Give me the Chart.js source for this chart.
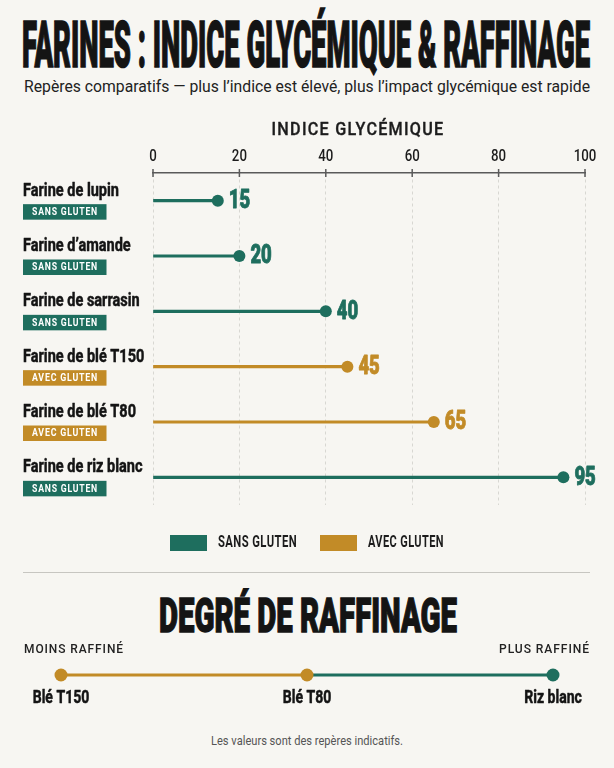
<!DOCTYPE html>
<html lang="fr">
<head>
<meta charset="utf-8">
<title>Farines : indice glycémique &amp; raffinage</title>
<script src="https://cdn.jsdelivr.net/npm/chart.js@4.4.1/dist/chart.umd.min.js"></script>
<style>
  html, body { margin: 0; padding: 0; background: #f7f6f2; }
  body { width: 614px; height: 768px; position: relative; overflow: hidden;
         font-family: Roboto, 'Liberation Sans', sans-serif; color: #141414; }
  .t { position: absolute; white-space: nowrap; line-height: 1; transform-origin: 0 0; }
  #title { top: 13px; font-size: 65px; font-weight: 900; -webkit-text-stroke: 1.6px #141414; }
  #subtitle { top: 78px; font-size: 17px; font-weight: 400; color: #222; }
  #section { top: 592px; font-size: 48px; font-weight: 900; -webkit-text-stroke: 1.4px #141414; }
  #note { top: 734px; font-size: 13px; font-weight: 400; color: #555; }
  .rule { position: absolute; left: 23px; width: 567px; top: 572px; border-top: 1.5px solid #c7c6c1; }
  #igChart { position: absolute; left: 0; top: 100px; }
  #raffChart { position: absolute; left: 0; top: 635px; }
</style>
</head>
<body>
<div class="t" id="title">FARINES : INDICE GLYCÉMIQUE &amp; RAFFINAGE</div>
<div class="t" id="subtitle">Repères comparatifs — plus l’indice est élevé, plus l’impact glycémique est rapide</div>
<canvas id="igChart" width="614" height="470"></canvas>
<div class="rule"></div>
<div class="t" id="section">DEGRÉ DE RAFFINAGE</div>
<canvas id="raffChart" width="614" height="80"></canvas>
<div class="t" id="note">Les valeurs sont des repères indicatifs.</div>

<script>
// Data
const farines = ['Farine de lupin', 'Farine d’amande', 'Farine de sarrasin',
                 'Farine de blé T150', 'Farine de blé T80', 'Farine de riz blanc'];
const indiceGlycemique = [15, 20, 40, 45, 65, 95];
const gluten = ['SANS GLUTEN', 'SANS GLUTEN', 'SANS GLUTEN', 'AVEC GLUTEN', 'AVEC GLUTEN', 'SANS GLUTEN'];
const ticksIG = [0, 20, 40, 60, 80, 100];

const raffinageLabels = ['Blé T150', 'Blé T80', 'Riz blanc'];
const raffinageRang = [1, 2, 3];
const raffinageGluten = ['AVEC GLUTEN', 'AVEC GLUTEN', 'SANS GLUTEN'];

const TEAL = '#1e6e5e';
const GOLD = '#c28b27';
const glutenColor = g => g === 'SANS GLUTEN' ? TEAL : GOLD;
const FONT = "Roboto, 'Liberation Sans', sans-serif";

// squeezed canvas text (condensed look)
function cText(ctx, s, x, y, o) {
    ctx.save();
    ctx.font = `${o.weight || 700} ${o.size}px ${FONT}`;
    ctx.letterSpacing = (o.ls || 0) + 'px';
    ctx.fillStyle = o.color || '#141414';
    ctx.textBaseline = o.baseline || 'middle';
    ctx.textAlign = 'left';
    let sx = o.sx || 0.8;
    const w = ctx.measureText(s).width;
    if (o.w) sx = o.w / w;
    const dw = w * sx;
    let x0 = x;
    if (o.align === 'center') x0 = x - dw / 2;
    if (o.align === 'right') x0 = x - dw;
    ctx.translate(x0, y);
    ctx.scale(sx, 1);
    if (o.stroke) {
        ctx.strokeStyle = ctx.fillStyle;
        ctx.lineWidth = o.stroke;
        ctx.lineJoin = 'round';
        ctx.strokeText(s, 0, 0);
    }
    ctx.fillText(s, 0, 0);
    ctx.restore();
}

// decorations for the glycemic chart
const igDecor = {
    id: 'igDecor',
    afterDraw(chart) {
        const ctx = chart.ctx;
        const xs = chart.scales.x;
        const ys = chart.scales.y;
        const top = chart.chartArea.top;

        // axis title
        cText(ctx, 'INDICE GLYCÉMIQUE', 358, 30, { size: 19, weight: 500, ls: 1.5, w: 173, align: 'center', color: '#1c1c1c', stroke: 0.4 });

        // ticks + labels
        ctx.save();
        ctx.strokeStyle = '#5a5a5a';
        ctx.lineWidth = 1.5;
        ticksIG.forEach(v => {
            const px = xs.getPixelForValue(v);
            ctx.beginPath();
            ctx.moveTo(px, top - 4);
            ctx.lineTo(px, top + 4);
            ctx.stroke();
            cText(ctx, String(v), px, 57, { size: 17, weight: 500, sx: 0.78, align: 'center', color: '#1c1c1c' });
        });
        ctx.restore();

        // category names + badges
        farines.forEach((name, i) => {
            const y = ys.getPixelForValue(i);
            cText(ctx, name, 23, y - 5, { size: 18.5, weight: 700, sx: 0.785, baseline: 'alphabetic', stroke: 0.5 });
            ctx.fillStyle = glutenColor(gluten[i]);
            ctx.fillRect(23, y + 3.5, 83.5, 15.5);
            cText(ctx, gluten[i], 65, y + 11.6, { size: 11, weight: 700, ls: 1, w: 66, align: 'center', color: '#ffffff' });
        });

        // value labels next to the dots
        const meta = chart.getDatasetMeta(1);
        meta.data.forEach((pt, i) => {
            cText(ctx, String(indiceGlycemique[i]), pt.x + 11, pt.y + 1, { size: 25, weight: 900, sx: 0.74, color: glutenColor(gluten[i]), stroke: 0.8 });
        });

        // legend
        const items = [...new Set(gluten)];
        const textW = { 'SANS GLUTEN': 79, 'AVEC GLUTEN': 76 };
        const total = items.reduce((a, g) => a + 37 + 11 + textW[g], 0) + 23 * (items.length - 1);
        let lx = chart.width / 2 - total / 2;
        const ly = 443;
        items.forEach(g => {
            ctx.fillStyle = glutenColor(g);
            ctx.fillRect(lx, ly - 8, 37, 16);
            cText(ctx, g, lx + 48, ly, { size: 16, weight: 700, ls: 0.6, w: textW[g], color: '#1c1c1c' });
            lx += 37 + 11 + textW[g] + 23;
        });
    }
};

new Chart(document.getElementById('igChart'), {
    type: 'bar',
    data: {
        labels: farines,
        datasets: [{
            type: 'bar',
            indexAxis: 'y',
            data: indiceGlycemique,
            backgroundColor: gluten.map(glutenColor),
            barThickness: 2.5,
            order: 2
        }, {
            type: 'line',
            indexAxis: 'y',
            data: indiceGlycemique,
            showLine: false,
            clip: false,
            pointRadius: 6,
            pointHoverRadius: 6,
            pointBorderWidth: 0,
            pointBackgroundColor: gluten.map(glutenColor),
            order: 1
        }]
    },
    options: {
        indexAxis: 'y',
        responsive: false,
        animation: false,
        events: [],
        layout: { padding: { left: 153, right: 29, top: 73, bottom: 65 } },
        plugins: { legend: { display: false }, tooltip: { enabled: false } },
        scales: {
            x: {
                position: 'top',
                min: 0,
                max: 100,
                ticks: { display: false, stepSize: 20 },
                grid: { color: '#d8d7d2', lineWidth: 1, drawTicks: false },
                border: { display: true, color: '#5a5a5a', width: 1.5, dash: [3, 3] },
                afterFit: s => { s.height = 0; }
            },
            y: { display: false }
        }
    },
    plugins: [igDecor]
});

// degree of refinement
const raffDecor = {
    id: 'raffDecor',
    afterDraw(chart) {
        const ctx = chart.ctx;
        cText(ctx, 'MOINS RAFFINÉ', 24, 15, { size: 13, weight: 500, ls: 1, w: 100, color: '#222' });
        cText(ctx, 'PLUS RAFFINÉ', 590, 15, { size: 13, weight: 500, ls: 1, w: 91, align: 'right', color: '#222' });
        const meta = chart.getDatasetMeta(0);
        meta.data.forEach((pt, i) => {
            cText(ctx, raffinageLabels[i], pt.x, 63, { size: 18, weight: 700, sx: 0.78, align: 'center', stroke: 0.5 });
        });
    }
};

new Chart(document.getElementById('raffChart'), {
    type: 'line',
    data: {
        datasets: [{
            data: raffinageRang.map(r => ({ x: r, y: 'raffinage' })),
            borderWidth: 3,
            clip: false,
            segment: { borderColor: c => glutenColor(raffinageGluten[c.p1DataIndex]) },
            pointRadius: 6.5,
            pointHoverRadius: 6.5,
            pointBorderWidth: 0,
            pointBackgroundColor: raffinageGluten.map(glutenColor)
        }]
    },
    options: {
        responsive: false,
        animation: false,
        events: [],
        layout: { padding: { left: 61, right: 61, top: 30, bottom: 30 } },
        plugins: { legend: { display: false }, tooltip: { enabled: false } },
        scales: {
            x: { type: 'linear', min: 1, max: 3, display: false },
            y: { type: 'category', labels: ['raffinage'], offset: true, display: false }
        }
    },
    plugins: [raffDecor]
});

// squeeze html headings to their widths
function fit(id, left, width) {
    const el = document.getElementById(id);
    const w = el.getBoundingClientRect().width;
    el.style.left = left + 'px';
    el.style.transform = 'scaleX(' + (width / w) + ')';
}
fit('title', 22, 568);
fit('subtitle', 24, 566);
fit('section', 159, 298);
fit('note', 211, 192);
</script>
</body>
</html>
